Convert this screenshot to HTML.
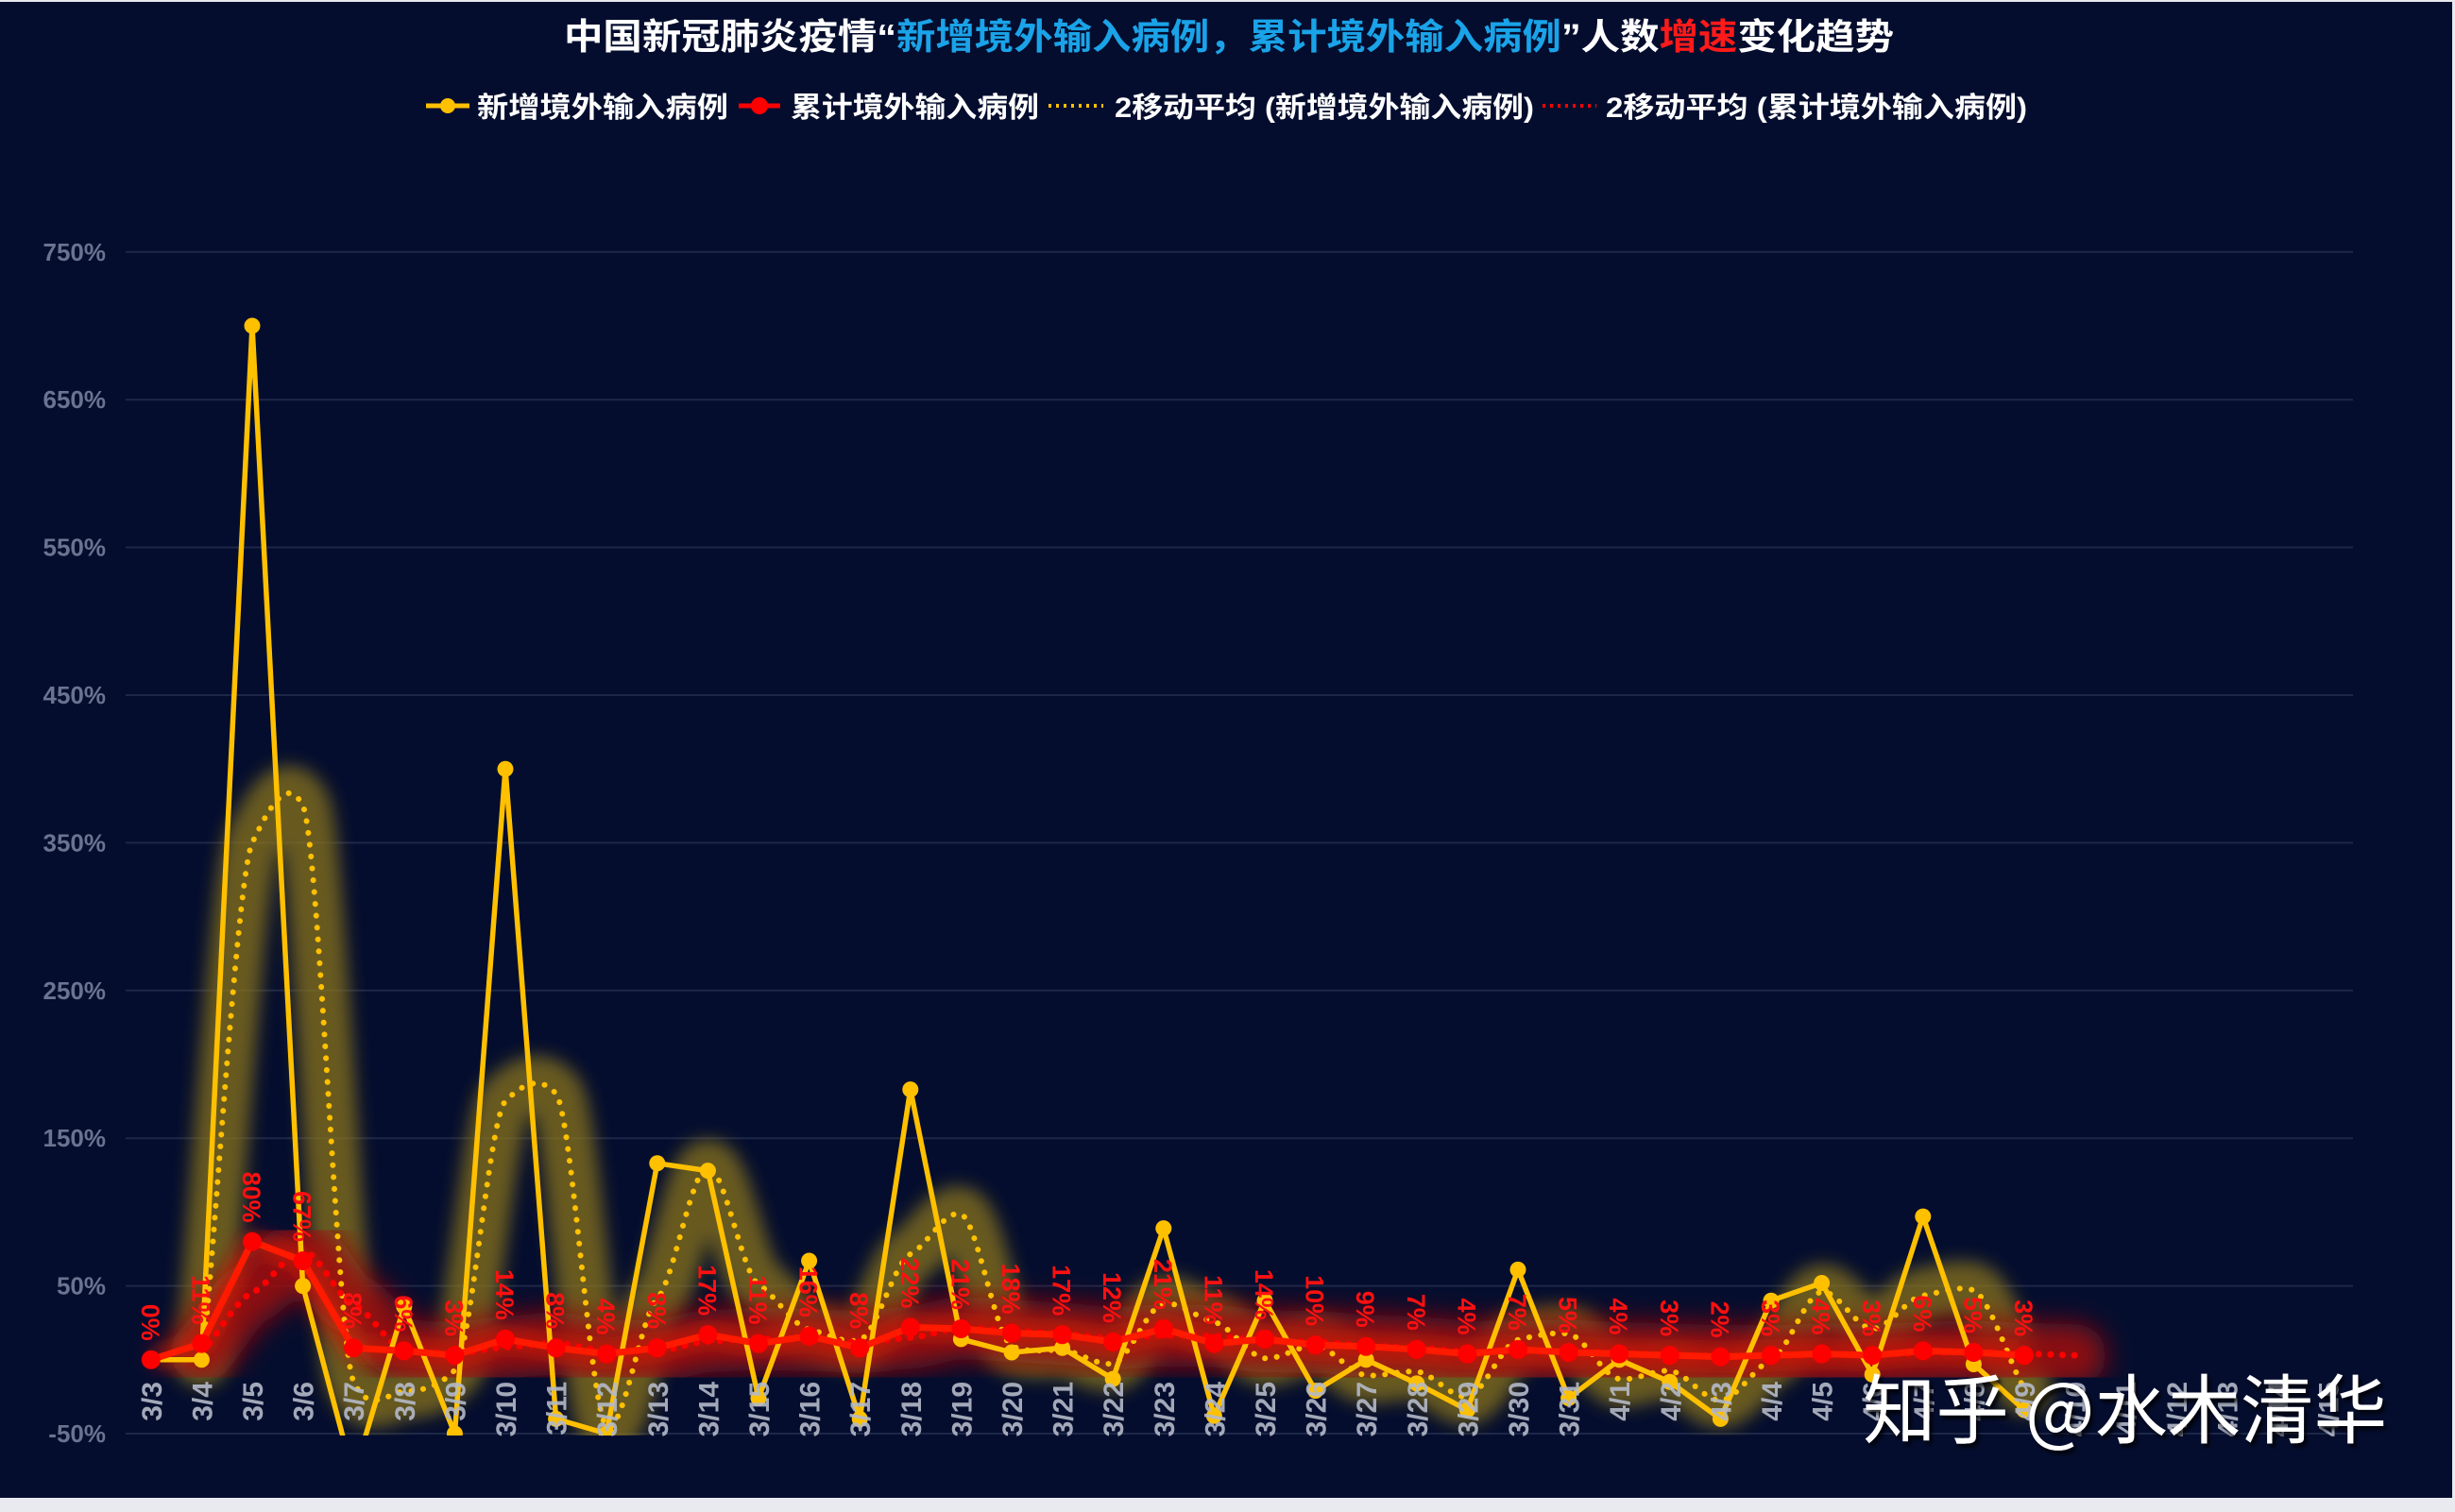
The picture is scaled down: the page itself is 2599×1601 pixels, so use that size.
<!DOCTYPE html>
<html><head><meta charset="utf-8">
<style>
html,body{margin:0;padding:0;background:#e8eaf0;}
svg{display:block;}
</style></head>
<body>
<svg id="c" width="2599" height="1601" viewBox="0 0 2599 1601" xmlns="http://www.w3.org/2000/svg">
<defs>
<filter id="b1" x="-20%" y="-20%" width="140%" height="140%"><feGaussianBlur stdDeviation="9"/></filter>
<filter id="b2" x="-20%" y="-20%" width="140%" height="140%"><feGaussianBlur stdDeviation="14"/></filter>
<filter id="sh" x="-10%" y="-10%" width="120%" height="140%"><feDropShadow dx="3" dy="4" stdDeviation="2" flood-color="#000" flood-opacity="0.8"/></filter>
<clipPath id="pc"><rect x="133" y="230" width="2400" height="1290"/></clipPath>
</defs>
<rect x="0" y="2" width="2596" height="1584" fill="#040d2e"/>
<g id="grid"></g>
<g id="glow"></g>
<g id="lines" clip-path="url(#pc)"></g>
<g id="lbl"></g>
<text x="1301" y="52" text-anchor="middle" font-family="'Liberation Sans','Noto Sans CJK SC',sans-serif" font-weight="bold" font-size="38" fill="#ffffff" textLength="1408" lengthAdjust="spacingAndGlyphs">中国新冠肺炎疫情“<tspan fill="#1aa3e8">新增境外输入病例，累计境外输入病例</tspan>”人数<tspan fill="#ff1a1a">增速</tspan>变化趋势</text>
<g font-family="'Liberation Sans','Noto Sans CJK SC',sans-serif" font-weight="bold" font-size="30" fill="#ffffff">
<line x1="451" y1="112" x2="497" y2="112" stroke="#ffc000" stroke-width="5"/><circle cx="474" cy="112" r="8" fill="#ffc000"/>
<text x="505" y="124" textLength="266" lengthAdjust="spacingAndGlyphs">新增境外输入病例</text>
<line x1="782" y1="112" x2="826" y2="112" stroke="#ff0000" stroke-width="5"/><circle cx="804" cy="112" r="9" fill="#ff0000"/>
<text x="837" y="124" textLength="263" lengthAdjust="spacingAndGlyphs">累计境外输入病例</text>
<line x1="1110" y1="112" x2="1168" y2="112" stroke="#ffc000" stroke-width="4" stroke-dasharray="3 5"/>
<text x="1180" y="124" textLength="444" lengthAdjust="spacingAndGlyphs">2移动平均 (新增境外输入病例)</text>
<line x1="1633" y1="112" x2="1690" y2="112" stroke="#ff0000" stroke-width="4" stroke-dasharray="3 5"/>
<text x="1700" y="124" textLength="446" lengthAdjust="spacingAndGlyphs">2移动平均 (累计境外输入病例)</text>
</g>
<text x="1972" y="1522" font-family="'Noto Sans CJK SC',sans-serif" font-size="80" fill="#ffffff" filter="url(#sh)" textLength="555" lengthAdjust="spacingAndGlyphs">知乎 @水木清华</text>
<rect x="0" y="1586" width="2599" height="15" fill="#e8eaf0"/>
</svg>
<script>
(function(){
var NS="http://www.w3.org/2000/svg";
function el(p,t,a,txt){var e=document.createElementNS(NS,t);for(var k in a)e.setAttribute(k,a[k]);if(txt!=null)e.textContent=txt;p.appendChild(e);return e;}
var X=function(i){return 159.8+53.6*i;};
var Y=function(v){return 1518-(v+50)*1.564;};
var grid=document.getElementById('grid'),glow=document.getElementById('glow'),lines=document.getElementById('lines'),lbl=document.getElementById('lbl');
for(var v=-50;v<=750;v+=100){
 el(grid,'line',{x1:133,x2:2491,y1:Y(v),y2:Y(v),stroke:'#1d2748','stroke-width':2});
 el(grid,'text',{x:112,y:Y(v)+9,'text-anchor':'end','font-family':'Liberation Sans,sans-serif','font-weight':'bold','font-size':26,fill:'#6a7390'},v+'%');
}
var dates=[];for(var d=3;d<=31;d++)dates.push('3/'+d);for(var d=1;d<=15;d++)dates.push('4/'+d);
var nw=[0,0,700,50,-79,36,-50,400,-40,-50,133,128,-26,67,-40,183,14,5,8,-13,89,-38,40,-21,0,-16,-34,61,-26,0,-15,-40,40,52,-10,97,-3,-34];
var cu=[0,11,80,67,8,6,3,14,8,4,8,17,11,16,8,22,21,18,17,12,21,11,14,10,9,7,4,7,5,4,3,2,3,4,3,6,5,3];
function ma(a,extra){var r=[];for(var i=1;i<a.length;i++)r.push([i,(a[i]+a[i-1])/2]);if(extra!=null)r.push([a.length,extra]);return r;}
var mn=ma(nw),mc=ma(cu,3);
function smooth(pts){var s='M'+X(pts[0][0])+','+Y(pts[0][1]);var t=0.06;
 for(var i=0;i<pts.length-1;i++){var p0=pts[i>0?i-1:i],p1=pts[i],p2=pts[i+1],p3=pts[i+2<pts.length?i+2:i+1];
  var x1=X(p1[0]),y1=Y(p1[1]),x2=X(p2[0]),y2=Y(p2[1]);
  var c1x=x1+(X(p2[0])-X(p0[0]))*0.16,c1y=y1+(Y(p2[1])-Y(p0[1]))*t,c2x=x2-(X(p3[0])-X(p1[0]))*0.16,c2y=y2-(Y(p3[1])-Y(p1[1]))*t;
  s+=' C'+c1x+','+c1y+' '+c2x+','+c2y+' '+x2+','+y2;}
 return s;}
function poly(a){return a.map(function(v,i){return X(i)+','+Y(v);}).join(' ');}
var gclip=el(glow,'g',{'clip-path':'url(#pc)'});
el(gclip,'path',{d:smooth(mn),fill:'none',stroke:'#8a7418','stroke-opacity':0.75,'stroke-width':58,'stroke-linejoin':'round','stroke-linecap':'round',filter:'url(#b1)'});
el(gclip,'path',{d:smooth(mc),fill:'none',stroke:'#9a0808','stroke-opacity':0.9,'stroke-width':66,'stroke-linejoin':'round','stroke-linecap':'round',filter:'url(#b2)'});
el(gclip,'polyline',{points:poly(cu),fill:'none',stroke:'#ff2000','stroke-opacity':0.45,'stroke-width':22,filter:'url(#b1)'});
el(lines,'path',{d:smooth(mn),fill:'none',stroke:'#ffc000','stroke-width':6,'stroke-dasharray':'0.1 12.5','stroke-linecap':'round'});
el(lines,'path',{d:smooth(mc),fill:'none',stroke:'#ff0000','stroke-width':7,'stroke-dasharray':'0.1 12.5','stroke-linecap':'round'});
el(lines,'polyline',{points:poly(nw),fill:'none',stroke:'#ffc000','stroke-width':5.5,'stroke-linejoin':'round'});
nw.forEach(function(v,i){if(v>=-50)el(lines,'circle',{cx:X(i),cy:Y(v),r:8.5,fill:'#ffc000'});});
el(lines,'polyline',{points:poly(cu),fill:'none',stroke:'#ff1a00','stroke-width':7,'stroke-linejoin':'round'});
cu.forEach(function(v,i){el(lines,'circle',{cx:X(i),cy:Y(v),r:10,fill:'#ff0000'});});
cu.forEach(function(v,i){var x=X(i)-10,y=Y(v)-20;
 el(lbl,'text',{x:0,y:0,transform:'translate('+x+','+y+') rotate(90)','text-anchor':'end','font-family':'Liberation Sans,sans-serif','font-weight':'bold','font-size':27,fill:'#ff1010'},v+'%');});
dates.forEach(function(d,i){var x=X(i)+11,y=1463;
 el(lbl,'text',{x:0,y:0,transform:'translate('+x+','+y+') rotate(-90)','text-anchor':'end','font-family':'Liberation Sans,sans-serif','font-weight':'bold','font-size':30,fill:'#b4b9c8','fill-opacity':0.9},d);});
})();
</script>
</body></html>
